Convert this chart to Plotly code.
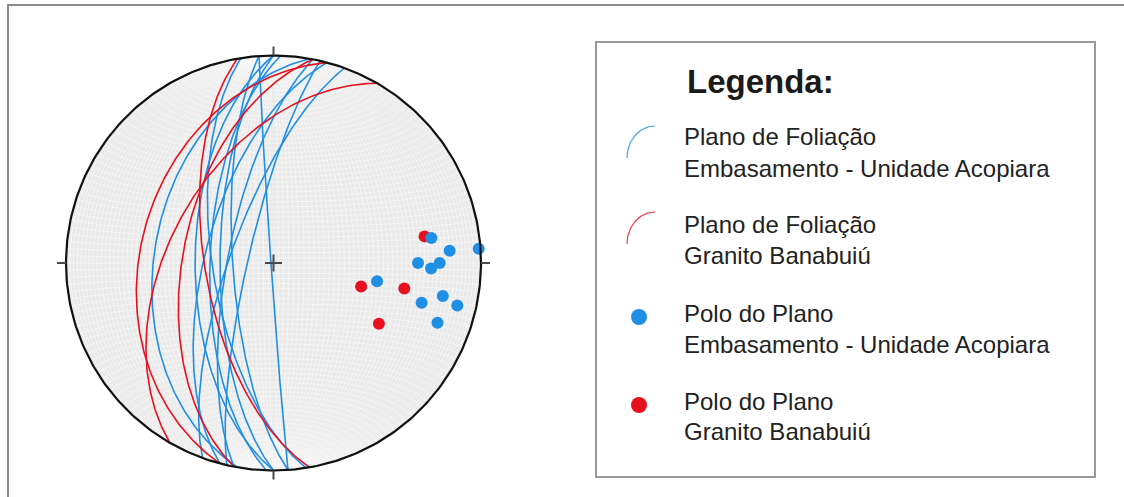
import numpy as np
import plotly.graph_objects as go

# ---- Foliation planes (dip direction, dip) in degrees ----
emb_dipdir = [261, 266, 266, 270, 272, 270, 280, 285, 281, 283, 290]
emb_dip = [66, 74, 89, 59, 65, 69, 42, 63, 72, 80, 73]

gra_dipdir = [260, 285, 281, 300]
gra_dip = [63, 36, 54, 49]

legend_title = "Legenda:"
legend_lines = [
    ("Plano de Foliação", "Embasamento - Unidade Acopiara"),
    ("Plano de Foliação", "Granito Banabuiú"),
    ("Polo do Plano", "Embasamento - Unidade Acopiara"),
    ("Polo do Plano", "Granito Banabuiú"),
]

BLUE = "#1f8fe6"
RED = "#e8101f"

W, H = 1124, 497
CX, CY, R = 273.5, 263.0, 207.5


def project(v):
    """Lower-hemisphere equal-area (Schmidt) projection of unit vectors (E, N, Down)."""
    vx, vy, vz = v
    f = 1.0 / np.sqrt(1.0 + vz)
    return vx * f, vy * f


def great_circle(dipdir, dip, n=181):
    s = np.radians(dipdir - 90.0)
    dd = np.radians(dipdir)
    d = np.radians(dip)
    a = np.array([np.sin(s), np.cos(s), 0.0])
    b = np.array([np.sin(dd) * np.cos(d), np.cos(dd) * np.cos(d), np.sin(d)])
    t = np.linspace(0, np.pi, n)
    v = np.outer(np.cos(t), a) + np.outer(np.sin(t), b)
    vz = np.clip(v[:, 2], 0, None)
    return project((v[:, 0], v[:, 1], vz))


def pole(dipdir, dip):
    dd = np.radians(dipdir)
    d = np.radians(dip)
    v = (-np.sin(dd) * np.sin(d), -np.cos(dd) * np.sin(d), np.cos(d))
    return project(v)


def small_circle_ns(alpha, n=121):
    a = np.radians(alpha)
    psi = np.linspace(0, np.pi, n)
    v = (np.sin(a) * np.cos(psi), np.full_like(psi, np.cos(a)), np.sin(a) * np.sin(psi))
    return project(v)


def px(x):
    return (x - CX) / R


def py(y):
    return (CY - y) / R


fig = go.Figure()

# Net background disc
fig.add_shape(type="circle", xref="x", yref="y", x0=-1, y0=-1, x1=1, y1=1,
              fillcolor="#eaeaea", line=dict(width=0), layer="below")

# Schmidt net: meridians and small circles every 2 degrees
gx, gy = [], []
for dp in range(2, 90, 2):
    for ddir in (90, 270):
        x, y = great_circle(ddir, dp)
        gx += list(x) + [None]
        gy += list(y) + [None]
for al in range(2, 180, 2):
    x, y = small_circle_ns(al)
    gx += list(x) + [None]
    gy += list(y) + [None]
fig.add_trace(go.Scatter(x=gx, y=gy, mode="lines", line=dict(color="#f8f8f8", width=0.8),
                         hoverinfo="skip", showlegend=False))

# Great circles
for dd, dp in zip(emb_dipdir, emb_dip):
    x, y = great_circle(dd, dp)
    fig.add_trace(go.Scatter(x=x, y=y, mode="lines", line=dict(color=BLUE, width=1.6),
                             showlegend=False))
for dd, dp in zip(gra_dipdir, gra_dip):
    x, y = great_circle(dd, dp)
    fig.add_trace(go.Scatter(x=x, y=y, mode="lines", line=dict(color=RED, width=1.6),
                             showlegend=False))

# Poles
rp = [pole(dd, dp) for dd, dp in zip(gra_dipdir, gra_dip)]
fig.add_trace(go.Scatter(x=[p[0] for p in rp], y=[p[1] for p in rp], mode="markers",
                         marker=dict(color=RED, size=12), showlegend=False))
bp = [pole(dd, dp) for dd, dp in zip(emb_dipdir, emb_dip)]
fig.add_trace(go.Scatter(x=[p[0] for p in bp], y=[p[1] for p in bp], mode="markers",
                         marker=dict(color=BLUE, size=12), showlegend=False))

# Primitive circle
th = np.linspace(0, 2 * np.pi, 361)
fig.add_trace(go.Scatter(x=np.cos(th), y=np.sin(th), mode="lines",
                         line=dict(color="#111111", width=2.2), hoverinfo="skip", showlegend=False))

# Cardinal ticks and centre cross
tick = 8.5 / R
ox = 9 / R
segs_x = [-tick, tick, None, 0, 0, None,
          1, 1 + ox, None, -1, -1 - ox, None, 0, 0, None, 0, 0]
segs_y = [0, 0, None, -tick, tick, None,
          0, 0, None, 0, 0, None, 1, 1 + ox, None, -1, -1 - ox]
fig.add_trace(go.Scatter(x=segs_x, y=segs_y, mode="lines",
                         line=dict(color="#4a4a4a", width=2), hoverinfo="skip", showlegend=False))

# ---- Legend panel ----
def pxr(x):
    return x / W


def pyr(y):
    return 1 - y / H


shapes = [
    dict(type="rect", xref="paper", yref="paper", x0=pxr(8), y0=pyr(5), x1=pxr(1135), y1=pyr(510),
         line=dict(color="#8c8c8c", width=2), fillcolor="rgba(0,0,0,0)", layer="below"),
    dict(type="rect", xref="paper", yref="paper", x0=pxr(596), y0=pyr(42), x1=pxr(1095), y1=pyr(477),
         line=dict(color="#9a9a9a", width=2), fillcolor="rgba(0,0,0,0)", layer="below"),
]
for s in shapes:
    fig.add_shape(**s)

FONT = "Liberation Sans, Arial, sans-serif"
fig.add_annotation(xref="paper", yref="paper", x=pxr(685), y=pyr(81), text="<b>" + legend_title + "</b>",
                   showarrow=False, xanchor="left", yanchor="middle",
                   font=dict(family=FONT, size=33, color="#1a1a1a"))

baselines = [(146, 177), (233, 264), (322, 353), (410, 440)]
for (l1, l2), (b1, b2) in zip(legend_lines, baselines):
    for txt, b in ((l1, b1), (l2, b2)):
        fig.add_annotation(xref="paper", yref="paper", x=pxr(682), y=pyr(b - 9), text=txt,
                           showarrow=False, xanchor="left", yanchor="middle",
                           font=dict(family=FONT, size=24, color="#222222"))

# Legend icons: arcs for planes, dots for poles
ang = np.linspace(np.pi, np.pi / 2, 30)
for col, yb in ((BLUE, 158), (RED, 244)):
    ax_ = 655 + 28 * np.cos(ang)
    ay_ = yb - 32 * np.sin(ang)
    fig.add_trace(go.Scatter(x=px(ax_), y=py(ay_), mode="lines", line=dict(color=col, width=1.2),
                             opacity=0.8, hoverinfo="skip", showlegend=False))
fig.add_trace(go.Scatter(x=[px(639)], y=[py(317)], mode="markers",
                         marker=dict(color=BLUE, size=16), showlegend=False))
fig.add_trace(go.Scatter(x=[px(639)], y=[py(405)], mode="markers",
                         marker=dict(color=RED, size=16), showlegend=False))

fig.update_layout(
    width=W, height=H,
    margin=dict(l=0, r=0, t=0, b=0),
    paper_bgcolor="white", plot_bgcolor="white",
    xaxis=dict(range=[px(0), px(W)], visible=False, fixedrange=True),
    yaxis=dict(range=[py(H), py(0)], visible=False, fixedrange=True),
    showlegend=False,
)

fig.write_html("out.html")
